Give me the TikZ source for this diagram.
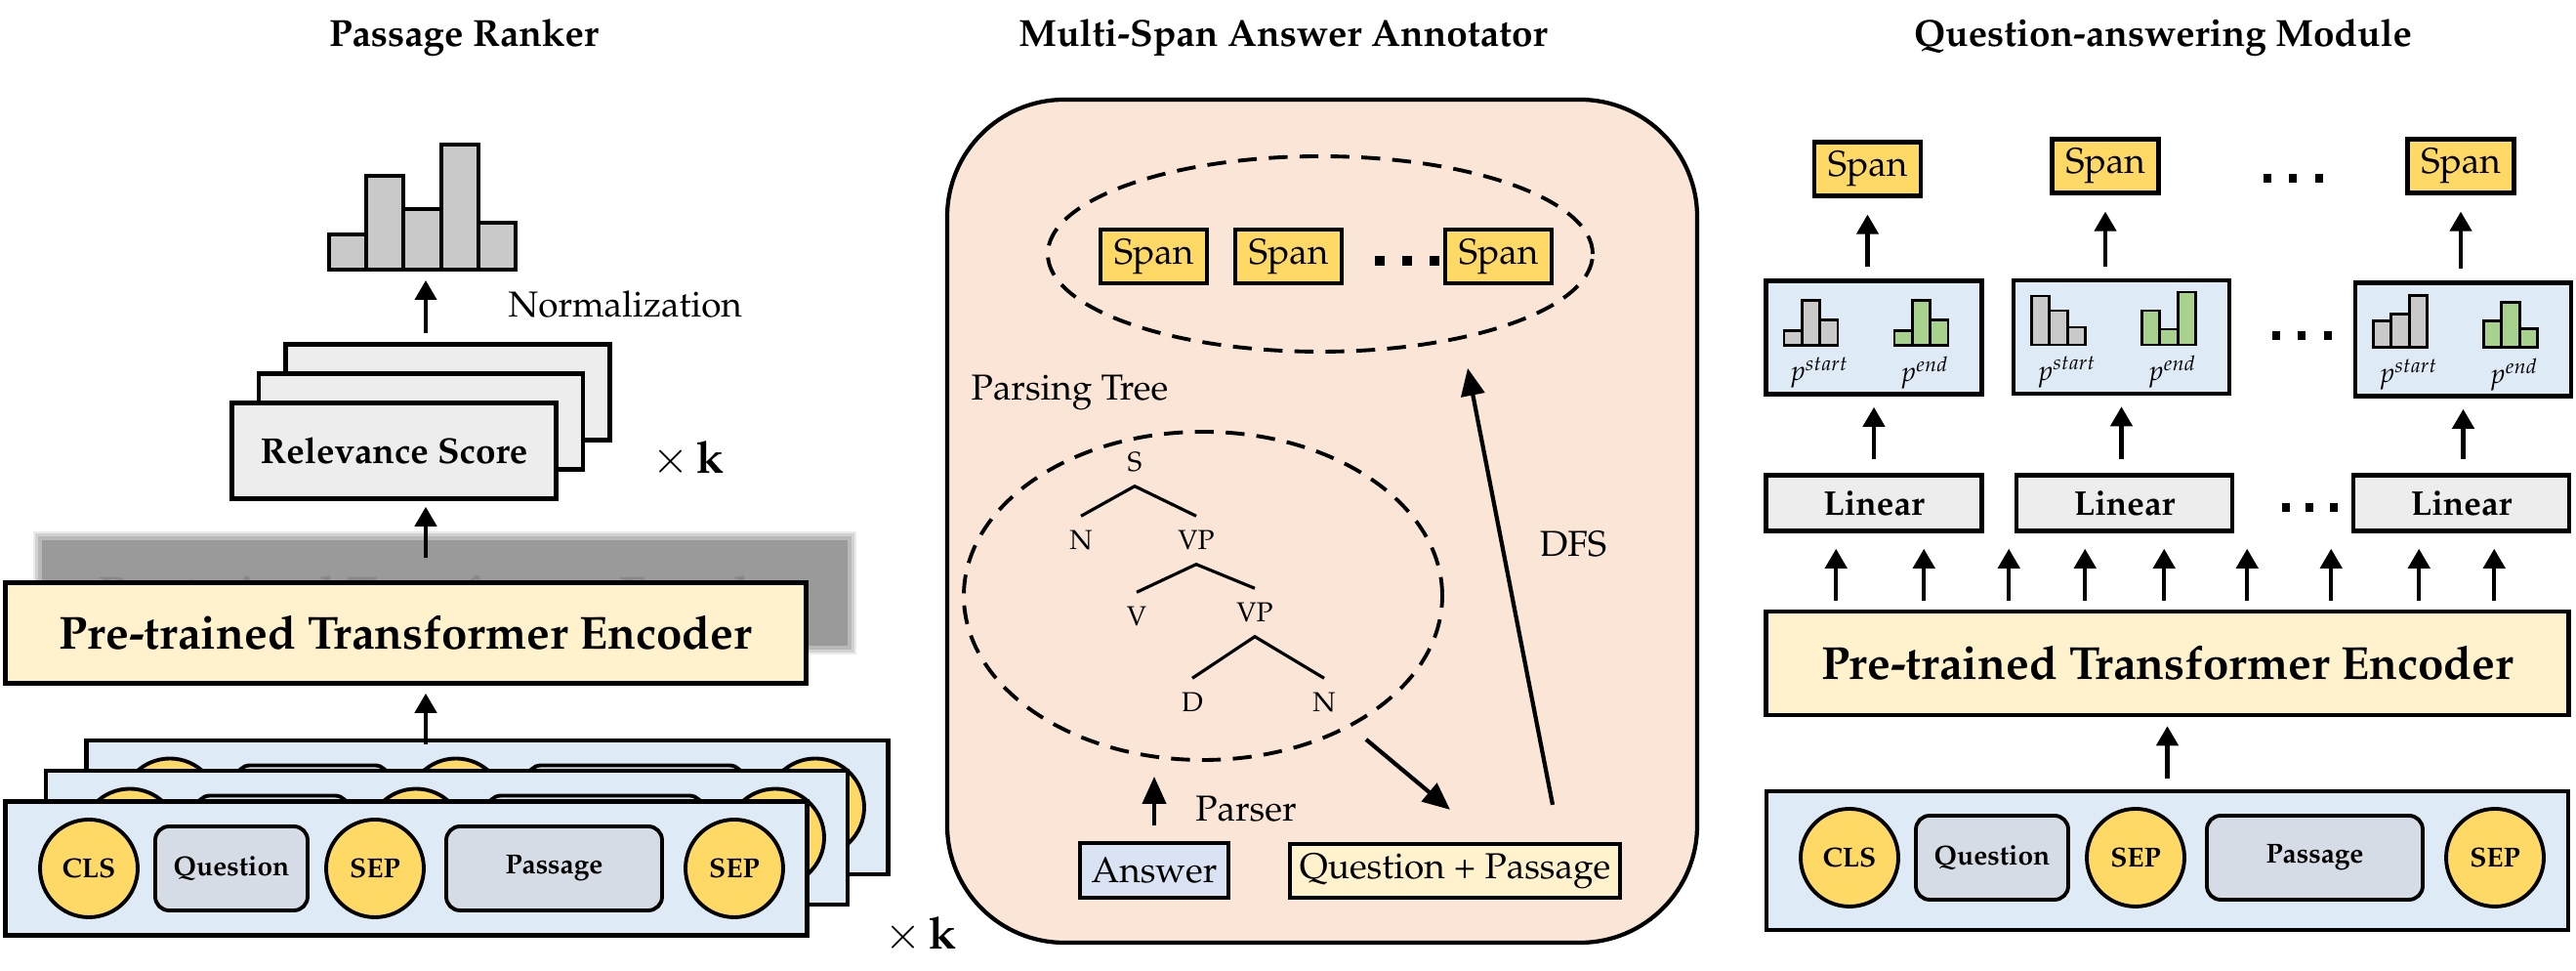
\documentclass[tikz,border=0pt]{standalone}
\usepackage[T1]{fontenc}
\usepackage{mathpazo}
\usepackage{amsmath}
\usetikzlibrary{shapes.geometric, arrows.meta, positioning, calc}
\definecolor{spanyellow}{HTML}{FFD966}
\definecolor{tokblue}{HTML}{DEEBF7}
\definecolor{segblue}{HTML}{D6DCE5}
\definecolor{encyellow}{HTML}{FFF2CC}
\definecolor{boxgray}{HTML}{EDEDED}
\definecolor{bargray}{HTML}{C9C9C9}
\definecolor{bargreen}{HTML}{A9D18E}
\definecolor{annopeach}{HTML}{FBE5D6}
\definecolor{ansblue}{HTML}{DAE3F3}
\definecolor{shadowgray}{HTML}{9A9A9A}

% one row of input tokens: prefix, left edge x, centre y
\newcommand{\tokenrow}[3]{%
    \node[tokcircle] (#1cls) at ({#2+0.88},#3) {CLS};
    \node[tokseg, minimum width=1.56cm] (#1q) at ({#2+2.34},#3) {Question};
    \node[tokcircle] (#1sepa) at ({#2+3.81},#3) {SEP};
    \node[tokseg, minimum width=2.21cm] (#1p) at ({#2+5.645},#3) {Passage};
    \node[tokcircle] (#1sepb) at ({#2+7.49},#3) {SEP};
}
% start/end distribution box: name, centre x, centre y, start bars, end bars
\newcommand{\probbox}[5]{%
    \node[probbox] (#1) at (#2,#3) {};
    \foreach \h [count=\i] in {#4}
        \draw[minibar, fill=bargray] ({#2-0.92+0.183*(\i-1)},{#3-0.08}) rectangle ++(0.183,\h);
    \foreach \h [count=\i] in {#5}
        \draw[minibar, fill=bargreen] ({#2+0.21+0.183*(\i-1)},{#3-0.08}) rectangle ++(0.183,\h);
    \node[plabel] (#1s) at ({#2-0.56},{#3-0.36}) {$p^{start}$};
    \node[plabel] (#1e) at ({#2+0.52},{#3-0.36}) {$p^{end}$};
}

\begin{document}
\begin{tikzpicture}[
    >=Triangle,
    title/.style={font=\fontsize{11}{13}\selectfont\bfseries, anchor=base},
    plain/.style={font=\fontsize{10.5}{12}\selectfont, inner sep=0pt},
    timesk/.style={font=\fontsize{13}{15}\selectfont, anchor=base, inner sep=0pt},
    histbar/.style={draw, line width=1.1pt, fill=bargray},
    minibar/.style={draw, line width=0.8pt},
    relbox/.style={
        rectangle, draw, line width=1.3pt, fill=boxgray,
        minimum width=3.32cm, minimum height=0.98cm, font=\fontsize{10.5}{12}\selectfont\bfseries
    },
    encbox/.style={
        rectangle, draw, line width=1.3pt, fill=encyellow, inner sep=0pt,
        font=\fontsize{13.5}{15}\selectfont\bfseries
    },
    tokbox/.style={
        rectangle, draw, line width=1.3pt, fill=tokblue,
        minimum width=8.21cm, minimum height=1.37cm
    },
    tokcircle/.style={
        circle, draw, line width=1.1pt, fill=spanyellow, minimum size=1.0cm, inner sep=0pt,
        font=\fontsize{8}{9}\selectfont\bfseries
    },
    tokseg/.style={
        rectangle, rounded corners=4pt, draw, line width=1.1pt, fill=segblue,
        minimum height=0.86cm, inner sep=0pt, font=\fontsize{8}{9}\selectfont\bfseries
    },
    annobox/.style={
        rectangle, rounded corners=1.2cm, draw, line width=1.2pt, fill=annopeach,
        minimum width=7.68cm, minimum height=8.63cm
    },
    dashell/.style={ellipse, draw, line width=1.1pt, dash pattern=on 5.5pt off 3.5pt, inner sep=0pt},
    spanbox/.style={
        rectangle, draw, line width=1.2pt, fill=spanyellow, inner sep=0pt,
        minimum width=1.09cm, minimum height=0.55cm, font=\fontsize{10.5}{12}\selectfont
    },
    treelbl/.style={font=\fontsize{8}{9}\selectfont, inner sep=0pt, minimum height=0.48cm},
    treeline/.style={line width=0.9pt},
    ansbox/.style={
        rectangle, draw, line width=1.2pt, fill=ansblue, inner sep=0pt,
        minimum width=1.52cm, minimum height=0.56cm, font=\fontsize{10.5}{12}\selectfont
    },
    qpbox/.style={
        rectangle, draw, line width=1.2pt, fill=encyellow, inner sep=0pt,
        minimum width=3.38cm, minimum height=0.55cm, font=\fontsize{10.5}{12}\selectfont
    },
    probbox/.style={
        rectangle, draw, line width=1.3pt, fill=tokblue,
        minimum width=2.21cm, minimum height=1.16cm
    },
    linbox/.style={
        rectangle, draw, line width=1.3pt, fill=boxgray, inner sep=0pt,
        minimum width=2.21cm, minimum height=0.57cm, font=\fontsize{10}{12}\selectfont\bfseries
    },
    plabel/.style={font=\fontsize{8}{9}\selectfont, inner sep=0pt},
    uparrow/.style={-{Triangle[length=0.2cm, width=0.22cm]}, line width=1.2pt},
    bigarrow/.style={-{Triangle[length=0.28cm, width=0.24cm]}, line width=1.2pt}
]

    \useasboundingbox (0,0) rectangle (26.38,9.94);

    % Titles
    \node[title] (titleL) at (4.75,9.46) {Passage Ranker};
    \node[title] (titleM) at (13.14,9.46) {Multi-Span Answer Annotator};
    \node[title] (titleR) at (22.15,9.46) {Question-answering Module};

    % --- Passage Ranker ---
    \foreach \h [count=\i] in {0.36,0.96,0.62,1.28,0.48}
        \draw[histbar] ({3.37+0.382*(\i-1)},7.18) rectangle ++(0.382,\h);
    \coordinate (histL) at (4.36,7.18);
    \node[plain, anchor=base west] (norm) at (5.20,6.69) {Normalization};

    \node[relbox] (relB) at (4.585,5.925) {};
    \node[relbox] (relM) at (4.31,5.625) {};
    \node[relbox] (relF) at (4.035,5.325) {Relevance Score};
    \node[timesk] (kRel) at (7.05,5.09) {$\times\,\mathbf{k}$};

    % blurred copy behind the encoder
    \node[encbox, draw=none, fill=shadowgray, text=black!60, minimum width=8.25cm, minimum height=1.08cm] (ptShadow) at (4.555,3.87) {Pre-trained Transformer Encoder};
    \foreach \s/\o in {0.07/0.2,0.045/0.3,0.02/0.45}
        \fill[shadowgray, opacity=\o] ([shift={(-\s,-\s)}]ptShadow.south west) rectangle ([shift={(\s,\s)}]ptShadow.north east);
    \node[encbox, minimum width=8.2cm, minimum height=1.03cm] (pteL) at (4.155,3.46) {Pre-trained Transformer Encoder};

    % stacked inputs
    \node[tokbox] (tB) at (4.99,1.675) {};
    \tokenrow{tB}{0.86}{1.675}
    \node[tokbox] (tM) at (4.575,1.365) {};
    \tokenrow{tM}{0.45}{1.365}
    \node[tokbox] (tF) at (4.16,1.05) {};
    \tokenrow{tF}{0.03}{1.05}

    \draw[uparrow, shorten <=0.09cm, shorten >=0.11cm] (relB.north -| histL) -- (histL);
    \draw[uparrow] ($(pteL.north -| histL)+(0,0.23)$) -- ($(relF.south -| histL)+(0,-0.06)$);
    \draw[uparrow] ($(tB.north -| histL)+(0,-0.06)$) -- ($(pteL.south -| histL)+(0,-0.08)$);

    % --- Multi-Span Answer Annotator ---
    \node[annobox] (anno) at (13.54,4.605) {};
    \node[timesk] (kTok) at (9.43,0.22) {$\times\,\mathbf{k}$};

    \node[dashell, minimum width=5.58cm, minimum height=2.0cm] (spanset) at (13.52,7.34) {};
    \node[spanbox] (ms1) at (11.815,7.315) {Span};
    \node[spanbox] (ms2) at (13.195,7.315) {Span};
    \node[spanbox] (ms3) at (15.345,7.315) {Span};
    \foreach \x in {14.13,14.41,14.69}
        \fill ({\x-0.05},7.22) rectangle ++(0.1,0.1);

    \node[plain, anchor=base west] (ptree) at (9.94,5.84) {Parsing Tree};
    \node[dashell, minimum width=4.9cm, minimum height=3.36cm] (tree) at (12.32,3.84) {};
    \node[treelbl] (tS) at (11.62,5.21) {S};
    \node[treelbl] (tN) at (11.07,4.41) {N};
    \node[treelbl] (tVP) at (12.25,4.41) {VP};
    \node[treelbl] (tV) at (11.64,3.63) {V};
    \node[treelbl] (tVPb) at (12.85,3.67) {VP};
    \node[treelbl] (tD) at (12.21,2.75) {D};
    \node[treelbl] (tNb) at (13.56,2.75) {N};
    \draw[treeline] (tN.north) -- (tS.south) -- (tVP.north);
    \draw[treeline] (tV.north) -- (tVP.south) -- (tVPb.north);
    \draw[treeline] (tD.north) -- (tVPb.south) -- (tNb.north);

    \node[ansbox] (ans) at (11.82,1.03) {Answer};
    \node[qpbox] (qp) at (14.90,1.025) {Question + Passage};
    \node[plain] (parser) at (12.76,1.66) {Parser};
    \node[plain] (dfs) at (16.11,4.37) {DFS};

    \draw[bigarrow, shorten <=0.16cm, shorten >=0.15cm] (ans.north) -- (ans.north |- tree.south);
    \draw[bigarrow] ([shift={(1.67,-1.47)}]tree.center) -- ([shift={(-0.05,0.33)}]qp.north);
    \draw[bigarrow] ([shift={(1.0,0.38)}]qp.north) -- ([shift={(1.51,-0.15)}]spanset.south);

    % --- Question-answering Module ---
    \node[spanbox] (rs1) at (19.125,8.21) {Span};
    \node[spanbox] (rs2) at (21.56,8.24) {Span};
    \node[spanbox] (rs3) at (25.20,8.24) {Span};
    \foreach \x in {23.22,23.48,23.75}
        \fill ({\x-0.043},8.07) rectangle ++(0.085,0.085);

    \probbox{pb1}{19.19}{6.485}{0.15,0.46,0.26}{0.15,0.46,0.26}
    \probbox{pb2}{21.725}{6.49}{0.50,0.35,0.18}{0.35,0.16,0.54}
    \probbox{pb3}{25.225}{6.465}{0.27,0.34,0.53}{0.27,0.46,0.19}
    \foreach \x in {23.31,23.57,23.84}
        \fill ({\x-0.043},6.46) rectangle ++(0.085,0.085);

    \node[linbox] (lin1) at (19.19,4.79) {Linear};
    \node[linbox] (lin2) at (21.755,4.79) {Linear};
    \node[linbox] (lin3) at (25.205,4.79) {Linear};
    \foreach \x in {23.41,23.65,23.90}
        \fill ({\x-0.043},4.70) rectangle ++(0.085,0.085);

    \foreach \n in {1,2,3} {
        \draw[uparrow, shorten <=0.14cm, shorten >=0.11cm] (pb\n.south |- lin\n.north) -- (pb\n.south);
        \draw[uparrow, shorten <=0.12cm, shorten >=0.17cm] (rs\n.south |- pb\n.north) -- (rs\n.south);
    }

    \node[encbox, minimum width=8.22cm, minimum height=1.06cm] (enc) at (22.195,3.15) {Pre-trained Transformer Encoder};
    \foreach \dx in {0.74,1.64,2.51,3.29,4.10,4.95,5.81,6.71,7.48} {
        \coordinate (eTop) at ([xshift=\dx cm]enc.north west);
        \draw[uparrow, shorten <=0.09cm, shorten >=0.16cm] (eTop) -- (eTop |- lin1.south);
    }

    \node[tokbox, minimum height=1.42cm] (tR) at (22.195,1.13) {};
    \tokenrow{tR}{18.06}{1.16}
    \draw[uparrow, shorten <=0.11cm, shorten >=0.09cm] (tR.north) -- (enc.south);

\end{tikzpicture}
\end{document}
